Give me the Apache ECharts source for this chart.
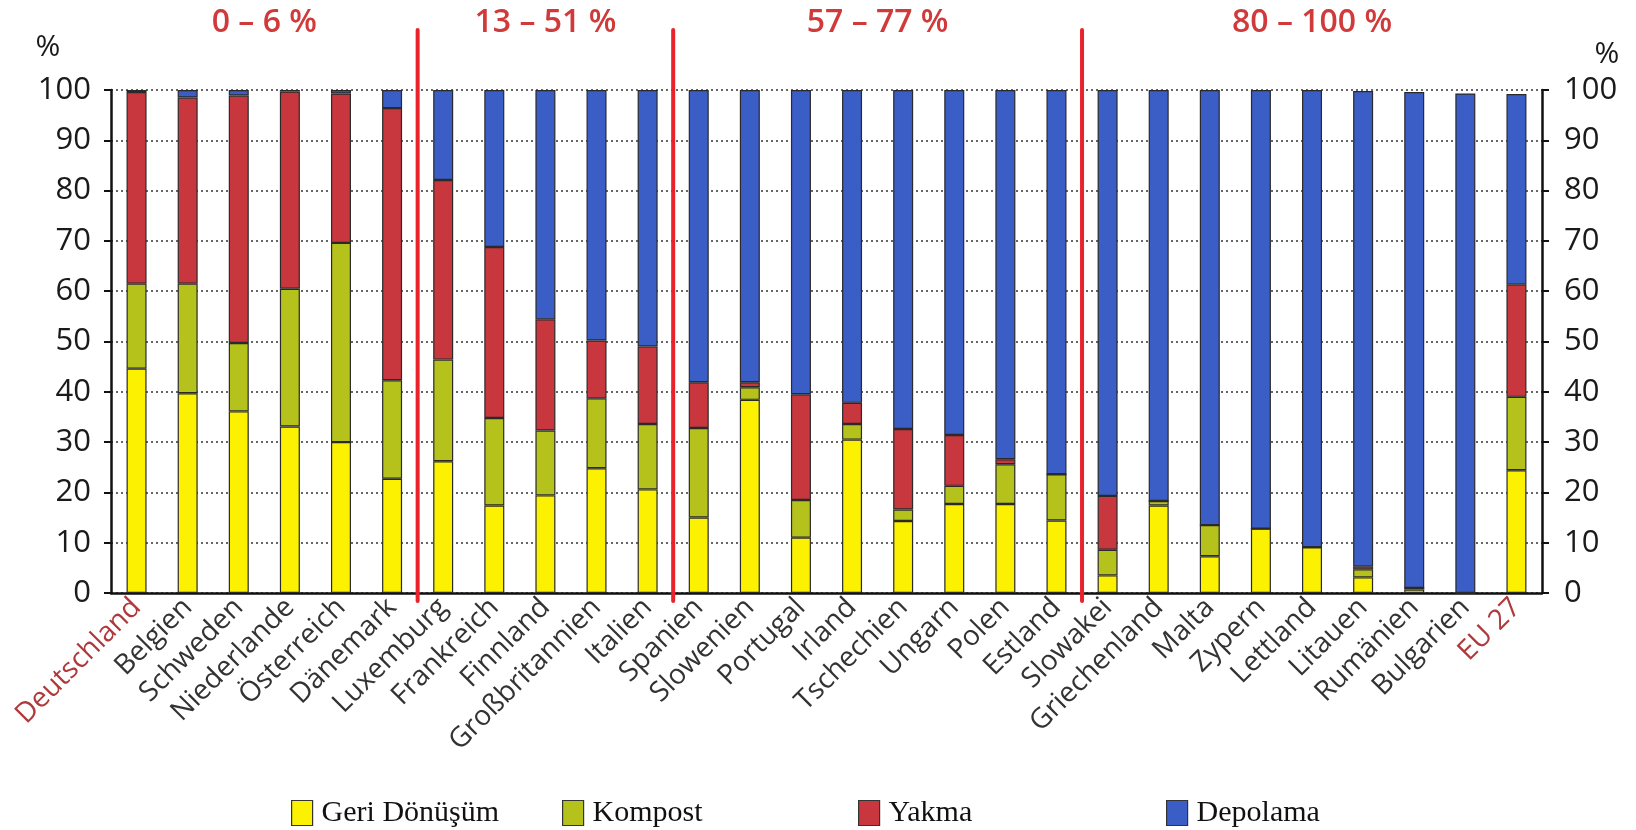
<!DOCTYPE html>
<html>
<head>
<meta charset="utf-8">
<script src="https://cdn.jsdelivr.net/npm/echarts@6/dist/echarts.min.js"></script>
<style>
  html, body { margin: 0; padding: 0; background: #ffffff; }
  #chart { width: 1636px; height: 830px; }
</style>
</head>
<body>
<div id="chart"></div>
<script>
// Municipal waste treatment by country, share in %
const categories = ['Deutschland', 'Belgien', 'Schweden', 'Niederlande', 'Österreich', 'Dänemark',
  'Luxemburg', 'Frankreich', 'Finnland', 'Großbritannien', 'Italien',
  'Spanien', 'Slowenien', 'Portugal', 'Irland', 'Tschechien', 'Ungarn', 'Polen', 'Estland',
  'Slowakei', 'Griechenland', 'Malta', 'Zypern', 'Lettland', 'Litauen', 'Rumänien', 'Bulgarien', 'EU 27'];
const highlighted = ['Deutschland', 'EU 27'];

const recycling    = [44.6, 39.7, 36.1, 33.1, 30.0, 22.7, 26.2, 17.4, 19.4, 24.8, 20.6, 15.0, 38.4, 11.0, 30.5, 14.3, 17.7, 17.7, 14.4, 3.5, 17.4, 7.3, 12.8, 9.1, 3.1, 0.7, 0, 24.4];
const compost      = [16.9, 21.8, 13.6, 27.4, 39.6, 19.6, 20.2, 17.4, 12.9, 13.9, 13.0, 17.8, 2.5, 7.5, 3.1, 2.3, 3.6, 7.9, 9.2, 5.1, 0.9, 6.2, 0, 0, 1.6, 0.3, 0, 14.6];
const incineration = [38.1, 37.0, 49.2, 39.2, 29.7, 54.1, 35.7, 34.0, 22.1, 11.5, 15.4, 9.1, 1.0, 21.0, 4.2, 16.0, 10.1, 1.0, 0, 10.7, 0, 0, 0, 0, 0.6, 0, 0, 22.3];
const landfill     = [0.4, 1.5, 1.1, 0.3, 0.7, 3.6, 17.9, 31.2, 45.6, 49.8, 51.0, 58.1, 58.1, 60.5, 62.2, 67.4, 68.6, 73.4, 76.4, 80.7, 81.7, 86.5, 87.2, 90.9, 94.5, 98.6, 99.3, 37.9];

const seriesNames = ['Geri Dönüşüm', 'Kompost', 'Yakma', 'Depolama'];
const yTicks = [0, 10, 20, 30, 40, 50, 60, 70, 80, 90, 100];

// landfill-share groups: first and last category index of each, and their headings
const groupLabels = ['0 – 6 %', '13 – 51 %', '57 – 77 %', '80 – 100 %'];
const groupFirst = [0, 6, 11, 19];
const groupLast  = [5, 10, 18, 27];

const colors = ['#fbf100', '#b5c21c', '#c7373d', '#3b5dc6'];

const chart = echarts.init(document.getElementById('chart'));

function yAxisDef(pos, margin) {
  return {
    type: 'value', position: pos,
    min: yTicks[0], max: yTicks[yTicks.length - 1], interval: yTicks[1] - yTicks[0],
    axisLine: { show: true, lineStyle: { color: '#111', width: 2.5 } },
    axisTick: { show: true, length: 7, lineStyle: { color: '#111', width: 2 } },
    axisLabel: { fontFamily: 'Open Sans', fontSize: 31, color: '#1a1a1a', margin: margin },
    splitLine: { show: pos === 'left', lineStyle: { type: [2, 3], color: '#666', width: 2 } }
  };
}

const series = [recycling, compost, incineration, landfill].map((vals, i) => ({
  name: seriesNames[i],
  type: 'bar',
  stack: 'total',
  barWidth: 20,
  data: vals,
  itemStyle: { color: colors[i], borderColor: '#2a2a2a', borderWidth: 1.2 }
}));

const legendLeft = [286, 557, 853, 1161];
const legends = seriesNames.map((n, i) => ({
  data: [{ name: n, icon: 'rect' }],
  left: legendLeft[i], top: 793,
  itemWidth: 21, itemHeight: 25,
  itemStyle: { borderColor: '#333', borderWidth: 1.2 },
  textStyle: { fontFamily: 'Liberation Serif', fontSize: 30, color: '#111', padding: [0, 0, 0, 4] },
  selectedMode: false
}));

chart.setOption({
  backgroundColor: '#ffffff',
  animation: false,
  grid: { left: 111, right: 94, top: 90, bottom: 237 },
  legend: legends,
  xAxis: {
    type: 'category',
    data: categories.map(c => highlighted.includes(c) ? { value: c, textStyle: { color: '#b0393b' } } : c),
    axisLine: { lineStyle: { color: '#111', width: 2.5 } },
    axisTick: { length: 9, lineStyle: { color: '#111', width: 2 } },
    axisLabel: { interval: 0, rotate: 45, margin: 10, fontFamily: 'Open Sans', fontSize: 28, color: '#333' }
  },
  yAxis: [yAxisDef('left', 20), yAxisDef('right', 22)],
  series: series
});

// separators between groups and group headings, placed through the category scale
const cx = i => chart.convertToPixel({ xAxisIndex: 0 }, i);
const yBottom = chart.convertToPixel({ yAxisIndex: 0 }, 0);
const graphics = [];
for (let g = 0; g < groupLast.length - 1; g++) {
  const x = (cx(groupLast[g]) + cx(groupFirst[g + 1])) / 2;
  graphics.push({
    type: 'line', z: 100,
    shape: { x1: x, y1: 30, x2: x, y2: yBottom + 8 },
    style: { stroke: '#e8232b', lineWidth: 4, lineCap: 'round' }
  });
}
groupLabels.forEach((t, g) => {
  const x = (cx(groupFirst[g]) + cx(groupLast[g])) / 2;
  graphics.push({
    type: 'text', z: 100, x: x, y: 23,
    style: { text: t, fill: '#d03a3a', font: '600 32px "Open Sans"', textAlign: 'center', textVerticalAlign: 'middle' }
  });
});
graphics.push({
  type: 'text', x: 48, y: 47,
  style: { text: '%', fill: '#1a1a1a', font: '30px "Open Sans"', textAlign: 'center', textVerticalAlign: 'middle' }
});
graphics.push({
  type: 'text', x: 1607, y: 54,
  style: { text: '%', fill: '#1a1a1a', font: '30px "Open Sans"', textAlign: 'center', textVerticalAlign: 'middle' }
});
chart.setOption({ graphic: graphics });
</script>
</body>
</html>
